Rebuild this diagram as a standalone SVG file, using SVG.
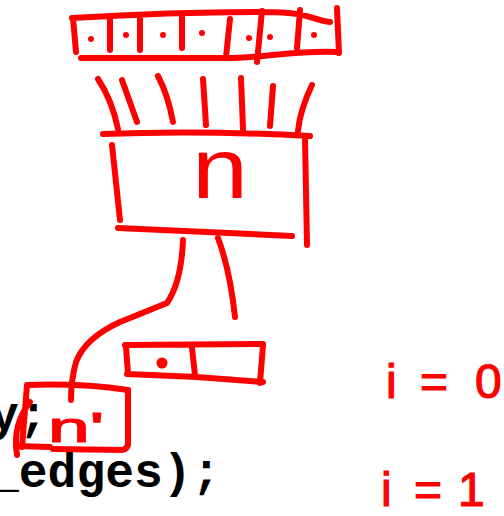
<svg xmlns="http://www.w3.org/2000/svg" width="504" height="516" viewBox="0 0 504 516">
<style>
.ink{fill:none;stroke:#ff0000;stroke-width:6;stroke-linecap:round;stroke-linejoin:round}
.dot{fill:#ff0000}
.code{font-family:"Liberation Mono","Courier New",monospace;font-weight:bold;font-size:48px;fill:#000}
.hand{font-family:"Liberation Sans",Arial,sans-serif;fill:#ff0000;stroke:#ff0000;stroke-width:1.2}
.big{font-family:"Liberation Sans",Arial,sans-serif;fill:#ff0000}
</style>
<rect width="504" height="516" fill="#fff"/>
<g id="code">
<text class="code" x="-10" y="430">y;</text>
<text class="code" x="-10" y="487">_edges);</text>
</g>
<g id="array-top">
<path class="ink" d="M72,18 C140,14 210,12 262,12 S310,20 330,22 M81,58 L227,58 C260,58 300,50 337,52 M73,18 L76,52 M110,19 L110,50 M140,18 L140,50 M182,17 L182,48 M230,19 L226,57 M262,11 L257,62 M300,10 L297,48 M337,8 L339,53"/>
<circle class="dot" cx="91" cy="39" r="3"/>
<circle class="dot" cx="126" cy="35" r="3"/>
<circle class="dot" cx="163" cy="35" r="3"/>
<circle class="dot" cx="202" cy="33" r="3"/>
<circle class="dot" cx="249" cy="38" r="3"/>
<circle class="dot" cx="270" cy="37" r="3"/>
<circle class="dot" cx="314" cy="35" r="3"/>
</g>
<g id="fan">
<path class="ink" d="M98,79 Q112,100 118,129 M122,80 L137,122 M158,76 Q168,95 173,122 M203,79 L206,125 M241,78 L243,129 M273,86 L270,126 M312,85 Q300,110 298,131"/>
</g>
<g id="node-n">
<path class="ink" d="M103,134 Q200,130 310,136 M112,145 L120,220 M118,228 Q200,232 292,236 M305,138 L307,245"/>
<text class="big" x="192" y="198" font-size="86" textLength="56" lengthAdjust="spacingAndGlyphs">n</text>
</g>
<g id="node-small">
<path class="ink" d="M125,345 L263,344 M126,347 L128,374 M127,374 Q195,376 263,382 M263,345 L260,383 M192,348 L195,375"/>
<circle class="dot" cx="162" cy="363" r="5.5"/>
</g>
<g id="node-nprime">
<path class="ink" d="M27,385 Q80,383 128,390 M27,385 L22,447 M17,446 L50,447 M53,449 L122,450 Q128,449 128,443 M128,390 L128,445 M30,402 Q12,425 17,455"/>
<text class="hand" x="48" y="442" font-size="42" textLength="56" lengthAdjust="spacingAndGlyphs">n'</text>
</g>
<g id="connectors">
<path class="ink" d="M183,240 C182,265 178,287 167,303 L120,322 Q85,338 76,362 Q71,380 71,400"/>
<path class="ink" d="M218,238 Q230,270 235,317"/>
</g>
<g id="labels">
<text class="hand" font-size="48" x="386 398 420 448 475" y="398">i = 0</text>
<text class="hand" font-size="48" x="381 393 414 440 458" y="506">i = 1</text>
</g>
</svg>
